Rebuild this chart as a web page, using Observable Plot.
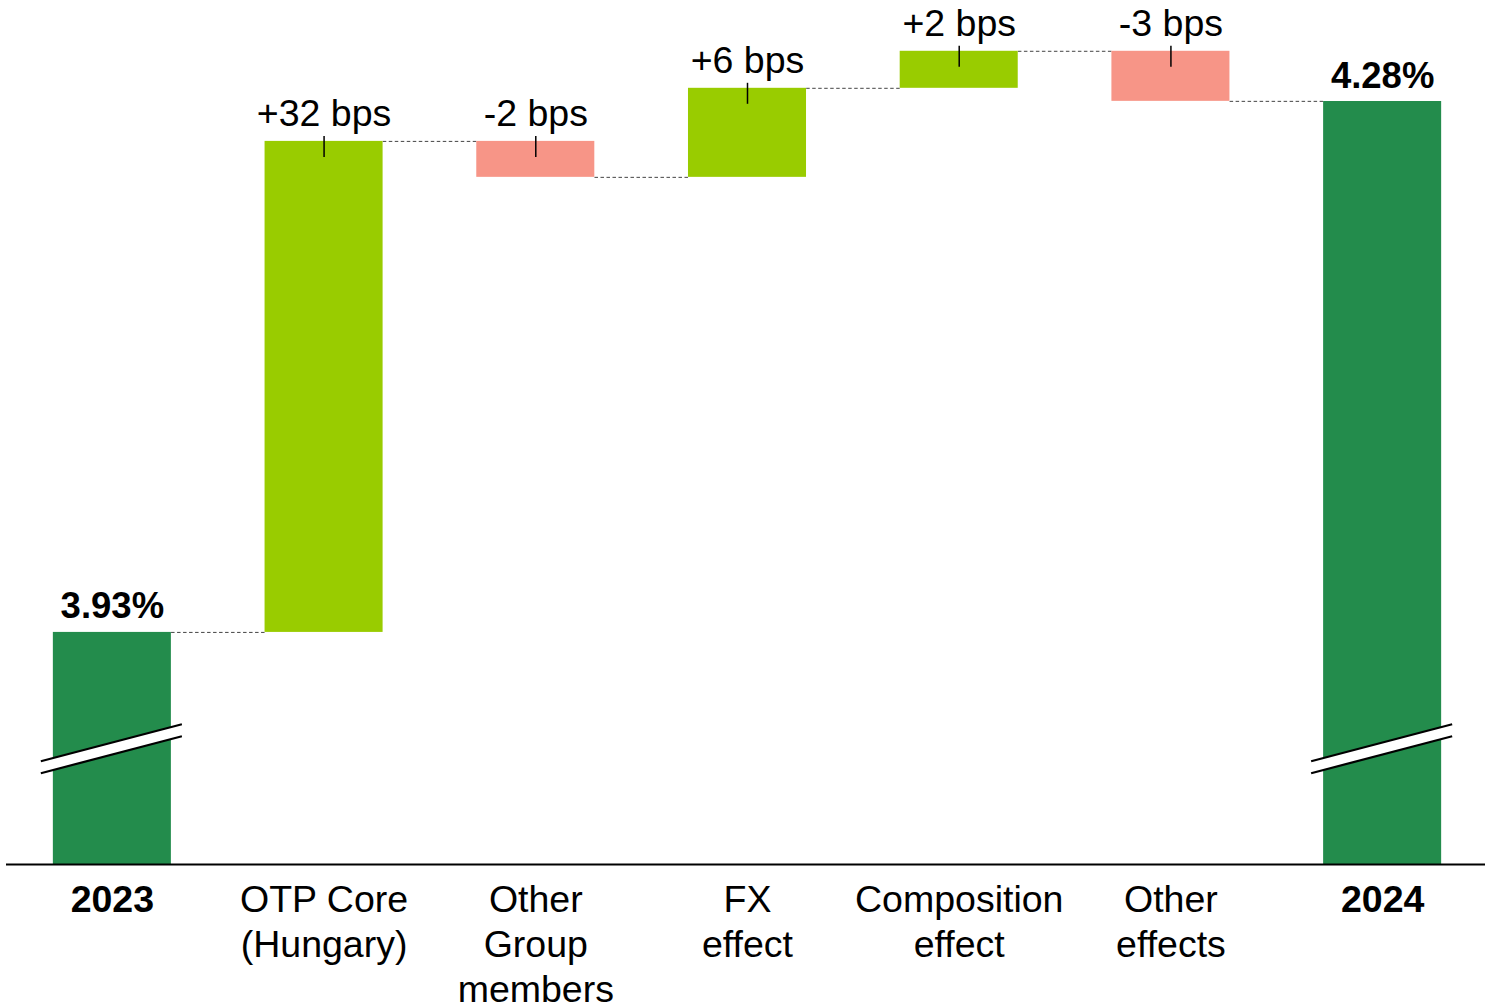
<!DOCTYPE html>
<html>
<head>
<meta charset="utf-8">
<script src="https://cdn.jsdelivr.net/npm/d3@7"></script>
<script src="https://cdn.jsdelivr.net/npm/@observablehq/plot@0.6"></script>
<style>
  html, body { margin: 0; padding: 0; background: #fff; }
  #chart svg { display: block; }
</style>
</head>
<body>
<div id="chart"></div>
<script>
// ---- data ----
const categories = ["2023", "OTP Core\n(Hungary)", "Other\nGroup\nmembers", "FX\neffect", "Composition\neffect", "Other\neffects", "2024"];
const totalCategories = ["2023", "2024"];
const totals = [3.93, 4.28];               // %
const totalLabels = ["3.93%", "4.28%"];
const deltaCategories = categories.slice(1, 6);
const deltas = [0.3237, -0.0237, 0.0587, 0.0244, -0.0330]; // percentage points
const deltaLabels = ["+32 bps", "-2 bps", "+6 bps", "+2 bps", "-3 bps"];
const axisBase = 3.777;    // value at the (broken) axis line
const breakLevel = 3.853;  // where the axis-break symbol sits

// ---- derived tables ----
const colors = {total: "#238C4C", up: "#99CC00", down: "#F79587"};
const rows = [];
rows.push({cat: categories[0], lo: axisBase, hi: totals[0], end: totals[0], fill: colors.total, kind: "total", label: totalLabels[0]});
let cum = totals[0];
deltas.forEach((d, i) => {
  const start = cum; cum += d;
  rows.push({cat: deltaCategories[i], lo: Math.min(start, cum), hi: Math.max(start, cum), end: cum,
             fill: d >= 0 ? colors.up : colors.down, kind: "delta", label: deltaLabels[i]});
});
rows.push({cat: categories[6], lo: axisBase, hi: totals[1], end: totals[1], fill: colors.total, kind: "total", label: totalLabels[1]});

const connectors = rows.slice(0, -1).map((r, i) => ({from: r.cat, to: rows[i + 1].cat, v: r.end}));
const deltaRows = rows.filter(r => r.kind === "delta");
const totalRows = rows.filter(r => r.kind === "total");
const catRows = categories.map(c => ({cat: c, bold: totalCategories.includes(c)}));

const font = "'Liberation Sans', Arial, Helvetica, sans-serif";

const plot = Plot.plot({
  width: 1485,
  height: 1006,
  marginLeft: 6,
  marginRight: 0,
  marginTop: 0,
  marginBottom: 142,
  style: {fontFamily: font, background: "#fff"},
  x: {domain: categories, type: "band", range: [6, 1488], paddingInner: 0.4425, paddingOuter: 0.2213, round: false, axis: null},
  y: {domain: [axisBase, totals[1]], range: [864, 101], axis: null},
  marks: [
    // ruleY on a band scale: x1 -> left edge of the next bar, x2 -> right edge of the current bar
    Plot.ruleY(connectors, {x1: "to", x2: "from", y: "v", stroke: "#444", strokeWidth: 1, strokeDasharray: "3.5,2.5"}),
    Plot.barY(rows, {x: "cat", y1: "lo", y2: "hi", fill: "fill"}),
    Plot.ruleX(deltaRows, {x: "cat", y1: "hi", y2: "hi", insetTop: -5, insetBottom: -16, stroke: "#000", strokeWidth: 1.5}),
    Plot.text(deltaRows, {x: "cat", y: "hi", text: "label", lineAnchor: "bottom", dy: -15, fontSize: 37.5, fill: "#000"}),
    Plot.text(totalRows, {x: "cat", y: "hi", text: "label", lineAnchor: "bottom", dy: -14, fontSize: 36.5, fontWeight: "bold", fill: "#000"}),
    Plot.ruleY([axisBase], {stroke: "#000", strokeWidth: 2}),
    Plot.text(catRows.filter(d => !d.bold), {x: "cat", y: () => axisBase, text: "cat", lineAnchor: "top", dy: 16, fontSize: 37.5, lineHeight: 1.2, fill: "#000"}),
    Plot.text(catRows.filter(d => d.bold), {x: "cat", y: () => axisBase, text: "cat", lineAnchor: "top", dy: 16, fontSize: 37.5, lineHeight: 1.2, fontWeight: "bold", fill: "#000"})
  ]
});

// axis-break symbols on the two total bars, positioned with the plot's scales
const xs = plot.scale("x"), ys = plot.scale("y");
const bw = xs.bandwidth;
const svg = d3.select(plot);
const cy = ys.apply(breakLevel);
totalCategories.forEach(c => {
  const x0 = xs.apply(c) - 12, x1 = xs.apply(c) + bw + 11;
  const xm = (x0 + x1) / 2;
  const rise = 18.5 / 70.5;
  const yAt = (x, off) => cy + off - (x - xm) * rise;
  const g = svg.append("g");
  g.append("path")
    .attr("d", `M${x0},${yAt(x0, -6)}L${x1},${yAt(x1, -6)}L${x1},${yAt(x1, 6)}L${x0},${yAt(x0, 6)}Z`)
    .attr("fill", "#fff");
  [-6, 6].forEach(off => {
    g.append("line")
      .attr("x1", x0).attr("y1", yAt(x0, off))
      .attr("x2", x1).attr("y2", yAt(x1, off))
      .attr("stroke", "#000").attr("stroke-width", 2.2);
  });
});

document.getElementById("chart").appendChild(plot);
</script>
</body>
</html>
